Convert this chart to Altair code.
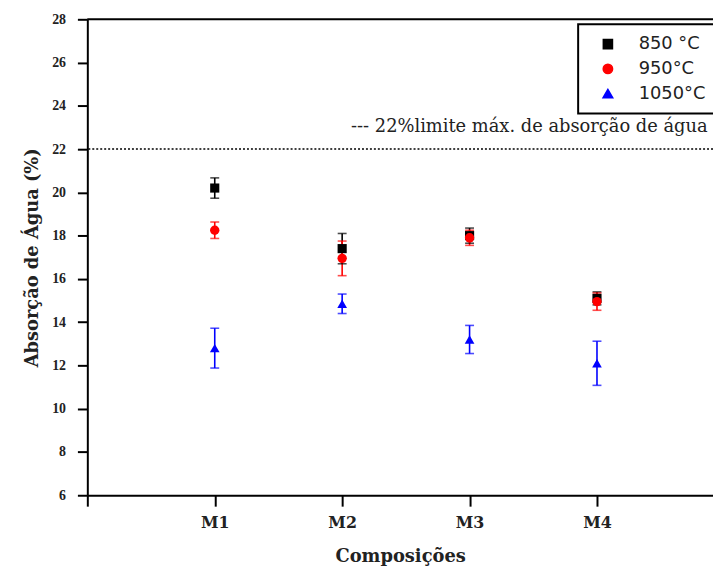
import altair as alt
import pandas as pd
import json

comps = ["M1", "M2", "M3", "M4"]
temps = ["850 °C", "950°C", "1050°C"]
means_850 = [20.2, 17.4, 18.0, 15.1]
err_850 = [0.47, 0.7, 0.35, 0.3]
means_950 = [18.25, 16.95, 17.9, 14.95]
err_950 = [0.38, 0.8, 0.35, 0.4]
means_1050 = [12.8, 14.85, 13.2, 12.1]
err_1050 = [0.92, 0.45, 0.65, 1.02]
limit = 22
limit_text = "--- 22%limite máx. de absorção de água"
y_ticks = [6, 8, 10, 12, 14, 16, 18, 20, 22, 24, 26, 28]

rows = []
for t, ms, es in zip(temps, [means_850, means_950, means_1050], [err_850, err_950, err_1050]):
    for i, (c, m, e) in enumerate(zip(comps, ms, es)):
        rows.append({"comp": c, "pos": i + 1, "temp": t, "mean": m, "low": m - e, "high": m + e})
df = pd.DataFrame(rows)

label_expr = "+datum.value>=1 && +datum.value<=4 ? " + json.dumps(comps) + "[datum.value-1] : ''"

serif = "Liberation Serif"
wserif = "DejaVu Serif"
xscale = alt.Scale(domain=[0, 631 / 128.5], nice=False, zero=False)
yscale = alt.Scale(domain=[min(y_ticks), max(y_ticks)], nice=False, zero=False)
colors = ["#000000", "#ff0000", "#0000ff"]

xaxis = alt.Axis(values=[0, 1, 2, 3, 4], labelExpr=label_expr, title="Composições",
                 grid=False, tickSize=11, tickWidth=2, tickColor="black",
                 domainColor="black", domainWidth=2,
                 labelFont=wserif, labelFontWeight="bold", labelFontSize=16, labelColor="#222",
                 labelPadding=9, titleFont=wserif, titleFontWeight="bold", titleFontSize=18,
                 titleColor="#222", titlePadding=17)
yaxis = alt.Axis(values=y_ticks, title="Absorção de Água (%)", grid=False,
                 tickSize=10, tickWidth=2, tickColor="black", domainColor="black", domainWidth=2,
                 labelFont=serif, labelFontWeight="bold", labelFontSize=14, labelColor="#222",
                 labelPadding=12, titleFont=wserif, titleFontWeight="bold", titleFontSize=18,
                 titleColor="#222", titlePadding=10)

legend = alt.Legend(title=None, orient="none", legendX=495, legendY=5,
                    strokeColor="black", fillColor="white",
                    padding=11, symbolOffset=10, labelFont="DejaVu Sans", labelFontSize=18,
                    labelColor="#222", labelOffset=22, rowPadding=7,
                    symbolSize=120, symbolOpacity=1)
color = alt.Color("temp:N", scale=alt.Scale(domain=temps, range=colors), legend=legend)
shape = alt.Shape("temp:N", scale=alt.Scale(domain=temps, range=["square", "circle", "triangle-up"]),
                  legend=legend)

base = alt.Chart(df)

ebar = base.mark_rule(strokeWidth=1.6).encode(
    x=alt.X("pos:Q", scale=xscale, axis=xaxis),
    y=alt.Y("low:Q", scale=yscale, axis=yaxis),
    y2="high:Q",
    color=color,
)
cap_lo = base.mark_tick(orient="horizontal", size=9, thickness=1.6).encode(
    x=alt.X("pos:Q", scale=xscale), y=alt.Y("low:Q", scale=yscale), color=color)
cap_hi = base.mark_tick(orient="horizontal", size=9, thickness=1.6).encode(
    x=alt.X("pos:Q", scale=xscale), y=alt.Y("high:Q", scale=yscale), color=color)

pts = base.mark_point(filled=True, opacity=1).encode(
    x=alt.X("pos:Q", scale=xscale),
    y=alt.Y("mean:Q", scale=yscale),
    color=color,
    shape=shape,
    size=alt.Size("temp:N", scale=alt.Scale(domain=temps, range=[85, 95, 140]), legend=None),
)

rule = alt.Chart(pd.DataFrame({"v": [limit]})).mark_rule(color="black", strokeDash=[2, 2], strokeWidth=1.5).encode(
    y=alt.Y("v:Q", scale=yscale)
)

top = alt.Chart(pd.DataFrame({"v": [max(y_ticks)]})).mark_rule(color="black", strokeWidth=2).encode(
    y=alt.Y("v:Q", scale=yscale)
)

ann = alt.Chart(pd.DataFrame({"t": [limit_text], "x": [2.07], "y": [23.0]})).mark_text(
    align="left", baseline="middle", font=wserif, fontSize=18, color="#222"
).encode(x=alt.X("x:Q", scale=xscale), y=alt.Y("y:Q", scale=yscale), text="t:N")

chart = alt.layer(rule, top, ann, ebar, cap_lo, cap_hi, pts).properties(
    width=631, height=480,
    autosize=alt.AutoSizeParams(type="none"),
    padding={"left": 80, "top": 9, "right": 0, "bottom": 74},
).configure_view(stroke=None).configure_legend(strokeWidth=2)

chart.save("out.html", embed_options={"renderer": "svg", "actions": False})
